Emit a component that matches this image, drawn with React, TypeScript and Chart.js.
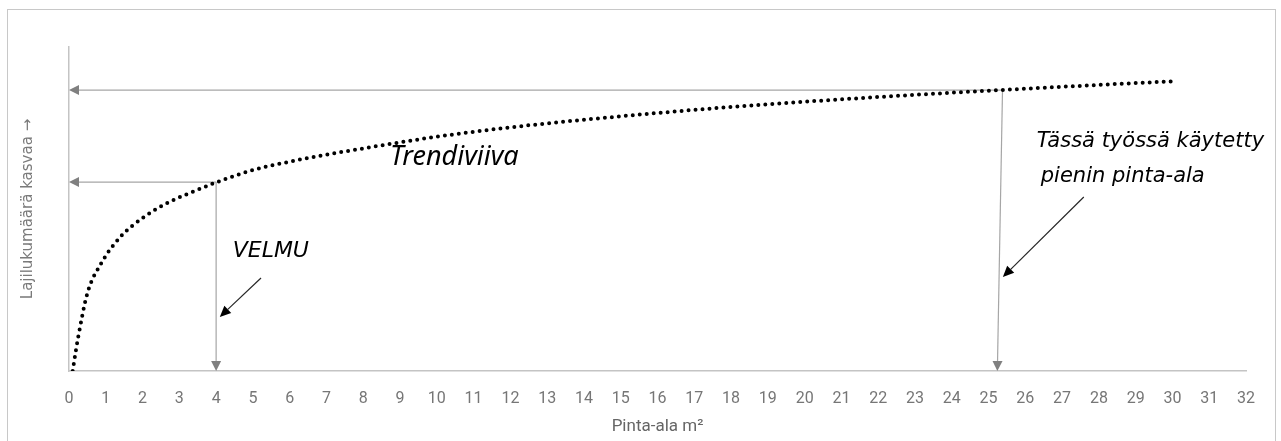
import React, { useEffect, useRef } from "react";
import { Chart, registerables } from "chart.js";

Chart.register(...registerables);

// Species-area trend curve
const areaX = [0.1, 0.17, 0.26, 0.5, 0.89, 1.39, 2.05, 2.75, 3.43, 4, 5, 6, 7, 8, 10, 12, 15, 18, 20, 22.5, 25.3, 28, 30];
const speciesY = [0, 5.1, 11.1, 24, 33.5, 41.3, 47.6, 52.3, 55.6, 58.2, 62, 64.6, 66.8, 68.7, 72.3, 75.2, 78.6, 81.5, 83.1, 84.9, 86.7, 88.3, 89.4];

// x axis tick values
const xTicks = [0, 1, 2, 3, 4, 5, 6, 7, 8, 9, 10, 11, 12, 13, 14, 15, 16, 17, 18, 19, 20, 21, 22, 23, 24, 25, 26, 27, 28, 29, 30, 31, 32];

// guide arrows (from curve to the axes)
const guideTopX = [4, 25.38];
const guideBottomX = [4, 25.24];
const guideY = [58.3, 86.7];

// annotation pointer arrows
const pointerFromX = [5.22, 27.59];
const pointerFromY = [28.7, 53.7];
const pointerToX = [4.1, 25.39];
const pointerToY = [16.7, 29.0];

// annotation texts
const noteText = ["Trendiviiva", "VELMU", "Tässä työssä käytetty", "pienin pinta-ala"];
const noteX = [8.73, 4.45, 26.31, 26.42];
const noteY = [63.6, 35.3, 69.1, 58.3];
const noteSize = [27, 22, 21, 21];
const noteFont = ['"Noto Sans", sans-serif', '"DejaVu Sans", sans-serif', '"DejaVu Sans", sans-serif', '"DejaVu Sans", sans-serif'];

function drawHead(ctx: CanvasRenderingContext2D, fx: number, fy: number, tx: number, ty: number, len: number, hw: number, color: string) {
  const dx = tx - fx;
  const dy = ty - fy;
  const d = Math.hypot(dx, dy) || 1;
  const ux = dx / d;
  const uy = dy / d;
  const bx = tx - ux * len;
  const by = ty - uy * len;
  ctx.fillStyle = color;
  ctx.beginPath();
  ctx.moveTo(tx, ty);
  ctx.lineTo(bx - uy * hw, by + ux * hw);
  ctx.lineTo(bx + uy * hw, by - ux * hw);
  ctx.closePath();
  ctx.fill();
}

function arrow(ctx: CanvasRenderingContext2D, fx: number, fy: number, tx: number, ty: number, lineColor: string, headColor: string, width: number, len: number, hw: number) {
  const dx = tx - fx;
  const dy = ty - fy;
  const d = Math.hypot(dx, dy) || 1;
  const bx = tx - (dx / d) * len;
  const by = ty - (dy / d) * len;
  ctx.strokeStyle = lineColor;
  ctx.lineWidth = width;
  ctx.beginPath();
  ctx.moveTo(fx, fy);
  ctx.lineTo(bx, by);
  ctx.stroke();
  drawHead(ctx, fx, fy, tx, ty, len, hw, headColor);
}

const annotationPlugin = {
  id: "speciesAnnotations",
  beforeDatasetsDraw(chart: any) {
    const { ctx, scales } = chart;
    const x = scales.x;
    const y = scales.y;
    ctx.save();
    for (let i = 0; i < guideY.length; i++) {
      const sx = x.getPixelForValue(guideTopX[i]);
      const sy = y.getPixelForValue(guideY[i]);
      arrow(ctx, sx, sy, x.getPixelForValue(0), sy, "#a6a6a6", "#808080", 1.2, 10, 5);
      arrow(ctx, sx, sy, x.getPixelForValue(guideBottomX[i]), y.getPixelForValue(0), "#a6a6a6", "#808080", 1.2, 10, 5);
    }
    ctx.restore();
  },
  afterDatasetsDraw(chart: any) {
    const { ctx, scales } = chart;
    const x = scales.x;
    const y = scales.y;
    ctx.save();
    for (let i = 0; i < pointerFromX.length; i++) {
      arrow(
        ctx,
        x.getPixelForValue(pointerFromX[i]),
        y.getPixelForValue(pointerFromY[i]),
        x.getPixelForValue(pointerToX[i]),
        y.getPixelForValue(pointerToY[i]),
        "#262626",
        "#000000",
        1.2,
        11,
        5
      );
    }
    ctx.fillStyle = "#000000";
    ctx.textAlign = "left";
    ctx.textBaseline = "alphabetic";
    for (let i = 0; i < noteText.length; i++) {
      ctx.font = `italic ${noteSize[i]}px ${noteFont[i]}`;
      ctx.fillText(noteText[i], x.getPixelForValue(noteX[i]), y.getPixelForValue(noteY[i]));
    }
    ctx.restore();
  },
};

export default function App() {
  const ref = useRef<HTMLCanvasElement | null>(null);

  useEffect(() => {
    if (!ref.current) return;
    const chart = new Chart(ref.current, {
      type: "line",
      data: {
        datasets: [
          {
            label: "Trendiviiva",
            data: areaX.map((v, i) => ({ x: v, y: speciesY[i] })),
            borderColor: "#000000",
            borderWidth: 4,
            borderDash: [0, 7],
            borderCapStyle: "round",
            pointRadius: 0,
            fill: false,
            cubicInterpolationMode: "monotone",
          },
        ],
      },
      options: {
        animation: false,
        responsive: false,
        layout: { padding: { top: 37, right: 29, left: 0, bottom: 0 } },
        plugins: { legend: { display: false }, tooltip: { enabled: false } },
        scales: {
          x: {
            type: "linear",
            min: 0,
            max: 32,
            grid: { display: false, drawTicks: false },
            border: { display: true, color: "#c4c4c4", width: 1.5 },
            afterBuildTicks: (scale: any) => {
              scale.ticks = xTicks.map((v) => ({ value: v }));
            },
            afterFit: (scale: any) => {
              scale.height = 70;
            },
            ticks: {
              autoSkip: false,
              maxRotation: 0,
              padding: 18,
              color: "#767676",
              font: { family: "Roboto, sans-serif", size: 16 },
            },
            title: {
              display: true,
              text: "Pinta-ala m²",
              color: "#666666",
              font: { family: "Roboto, sans-serif", size: 17 },
              padding: { top: 0, bottom: 4 },
            },
          },
          y: {
            type: "linear",
            min: 0,
            max: 100,
            grid: { display: false, drawTicks: false },
            border: { display: true, color: "#c4c4c4", width: 1.5 },
            ticks: { display: false },
            afterFit: (scale: any) => {
              scale.width = 61;
            },
            title: {
              display: true,
              text: "Lajilukumäärä kasvaa →",
              color: "#7a7a7a",
              font: { family: "'DejaVu Sans', sans-serif", size: 15 },
              padding: { top: 11, bottom: 0 },
            },
          },
        },
      },
      plugins: [annotationPlugin],
    } as any);
    return () => chart.destroy();
  }, []);

  return (
    <div
      style={{
        position: "absolute",
        left: 7,
        top: 9,
        width: 1269,
        height: 480,
        borderTop: "1px solid #c8c8c8",
        borderLeft: "1px solid #c8c8c8",
        borderRight: "1px solid #c8c8c8",
        boxSizing: "border-box",
        background: "#ffffff",
      }}
    >
      <canvas ref={ref} width={1267} height={431} style={{ display: "block" }} />
    </div>
  );
}
